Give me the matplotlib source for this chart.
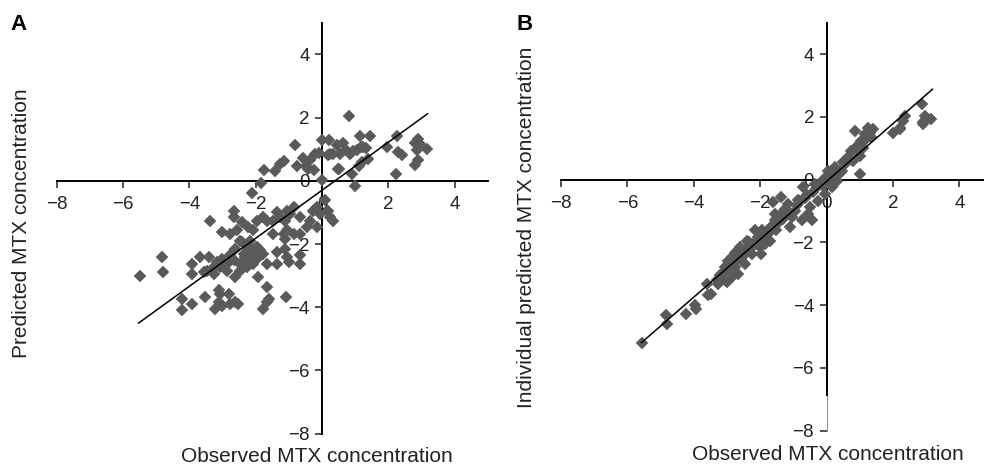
import matplotlib
matplotlib.use("Agg")
import matplotlib.pyplot as plt

plt.rcParams['font.family'] = ['Liberation Sans', 'DejaVu Sans']

# Panel A: observed vs predicted (population)
a_x = [0.82, -0.82, 0.00, 0.22, -0.58, -1.14, -1.27, -1.41, -1.74, -1.83, -2.11, -0.22, -0.08,
       -0.76, -0.48, -0.24, 0.00, 0.19, 0.34, 0.54, 0.52, 0.64, 0.44, 0.84, 1.04, 1.14, 1.43,
       1.24, 1.16, 1.33, 1.19, 1.39, 0.89, 0.99, 1.12, 1.95, 2.25, 2.30, 2.40, 2.23, 2.80,
       2.90, 2.95, 3.15, 2.85, 2.80, 2.90, 0.72, 0.92, -0.41, -0.35, 0.24, 0.49,
       0.09, 0.19, 0.32, 0.24, -0.06, -0.16, -0.26, -0.36, -0.16, -0.46, -0.66, -0.86, -0.96,
       -1.06, -1.12, -1.27, -1.37, -1.47, -1.67, -1.77, -1.97, -2.07, -2.22, -2.42, -2.67, -2.67,
       -2.57, -2.77, -3.02, -3.39, -1.16, -1.12, -1.06, -0.86, -0.68, -1.77, -1.37, -1.12, -1.06,
       -1.01, -1.37, -1.67, -0.66, -0.68, -2.22, -2.07, -2.17, -2.32, -2.47, -2.27, -2.07, -1.97,
       -2.67, -2.77, -2.87, -3.02, -3.17, -3.27, -3.07, -2.87, -2.47, -2.62, -1.92, -1.67, -3.27,
       -3.47, -3.67, -3.42, -3.57, -3.93, -3.93, -4.83, -4.81, -5.50, -4.23, -3.93, -4.23, -3.52,
       -3.12, -3.07, -2.82, -3.12, -3.22, -3.02, -2.77, -2.52, -2.62, -1.77, -1.67, -1.59, -1.08,
       -1.47, -1.97, -2.17, -2.47, -2.96, -2.61, -2.41, -2.21, -1.86, -2.36]
a_y = [2.04, 1.14, 1.30, 1.28, 0.72, 0.61, 0.52, 0.30, 0.35, -0.08, -0.39, 0.85, 0.89,
       0.46, 0.46, 0.35, 0.01, 0.83, 0.85, 0.85, 0.38, 1.19, 1.12, 0.85, 0.96, 1.43, 1.41,
       1.06, 1.07, 1.03, 0.59, 0.70, 0.22, -0.15, 0.46, 1.07, 1.43, 0.91, 0.80, 0.20, 1.19,
       1.33, 1.15, 1.01, 0.96, 0.49, 0.66, 0.96, 0.95, 0.38, 0.67, 0.85, 0.38,
       -0.62, -0.94, -1.26, -1.15, -1.04, -0.83, -0.94, -1.26, -1.47, -1.47, -1.15, -0.83, -1.04,
       -0.94, -1.26, -1.15, -0.99, -1.26, -1.26, -1.15, -1.26, -1.57, -1.47, -1.31, -0.94, -1.15,
       -1.57, -1.68, -1.62, -1.26, -1.68, -1.84, -1.57, -1.68, -1.68, -2.31, -2.26, -2.15, -2.42,
       -2.57, -2.63, -2.63, -2.36, -2.63, -2.10, -2.31, -2.52, -2.42, -2.63, -2.73, -2.63, -2.47,
       -2.52, -2.36, -2.63, -2.47, -2.57, -2.73, -2.73, -2.84, -2.84, -3.05, -3.05, -3.37, -2.95,
       -2.84, -2.42, -2.42, -2.89, -2.63, -2.95, -2.42, -2.89, -3.01, -3.73, -3.89, -4.10, -3.68,
       -3.47, -3.58, -3.58, -3.84, -4.05, -3.95, -3.89, -3.89, -3.84, -4.05, -3.84, -3.73, -3.66,
       -1.68, -2.10, -1.89, -1.89, -2.58, -2.15, -1.94, -2.05, -2.20, -2.30]

# Panel B: observed vs individual predicted
b_x = [-5.55, -4.85, -4.82, -4.24, -3.97, -3.92, -3.61, -3.56, -3.48, -3.26, -3.16, -3.06, -3.01,
       -2.86, -2.86, -2.76, -2.71, -2.66, -2.56, -2.46, -2.36, -2.26, -2.16, -2.06, -2.01, -1.91,
       -1.86, -1.71, -1.66, -1.56, -1.51, -1.36, -1.61, -1.36, -1.16, -1.10, -1.05, -0.95, -0.80,
       -0.75, -0.70, -0.55, -0.50, -0.45, -0.35, -0.25, -0.15, -0.05, 0.05, 0.15, 0.25, 0.30,
       0.35, 0.45, 0.65, 0.75, 0.85, 0.90, 1.00, 1.00, 1.05, 1.15, 1.25, 1.35, 1.40, 1.30, 2.00,
       2.21, 2.31, 2.36, 2.86, 2.91, 2.96, 3.16, -2.96, -2.61, -2.41, -2.21, -1.96, -1.76, -3.10,
       -2.90, -2.50, -2.30, -1.20, -0.90, -0.60, 0.10, 0.55, 1.10,
       -3.30, -3.20, -3.05, -2.95, -2.80, -2.70, -2.60, -2.50, -2.40, -2.30, -2.20, -2.10, -2.00,
       -1.90, -1.80, -1.70, -1.60, -1.50, -1.45, -1.30, -1.25, -1.15, -0.85, -0.65, -0.40, -0.30,
       -0.10, 0.00, 0.20, 0.40, 0.50, 0.80, 0.95, 1.20, 2.20, 2.90, -2.75, -2.35, -1.95, -1.55]
b_y = [-5.19, -4.32, -4.59, -4.27, -4.01, -4.11, -3.32, -3.69, -3.64, -3.32, -3.11, -2.79, -3.26,
       -2.47, -3.11, -2.79, -2.26, -3.00, -2.47, -2.68, -2.15, -2.36, -1.62, -1.83, -2.15, -1.73,
       -2.05, -1.94, -1.52, -1.30, -1.62, -0.56, -0.72, -1.09, -0.77, -1.52, -1.20, -0.99, -0.67,
       -1.30, -0.24, -1.09, -0.88, -1.30, -0.14, -0.67, -0.03, -0.46, 0.29, -0.24, 0.39, -0.03,
       0.18, 0.29, 0.71, 0.92, 1.56, 1.03, 0.18, 0.76, 1.24, 1.45, 1.66, 1.35, 1.61, 1.50, 1.50,
       1.66, 1.88, 2.03, 2.41, 1.77, 2.03, 1.93, -2.58, -2.15, -1.94, -2.05, -2.36, -1.73, -2.95,
       -2.60, -2.40, -2.10, -1.00, -0.80, -0.50, -0.10, 0.50, 1.00,
       -3.20, -3.05, -2.90, -2.85, -2.65, -2.55, -2.45, -2.30, -2.25, -2.20, -2.05, -1.95, -1.85,
       -1.80, -1.70, -1.55, -1.45, -1.40, -1.20, -1.25, -0.95, -1.00, -0.65, -0.60, -0.40, -0.25,
       -0.20, 0.10, 0.05, 0.20, 0.55, 0.60, 0.85, 1.30, 1.60, 1.85, -2.35, -2.00, -1.60, -1.10]

# Fitted lines (end points)
fit_a_x = [-5.53, 3.18]
fit_a_y = [-4.50, 2.12]
fit_b_x = [-5.57, 3.19]
fit_b_y = [-5.19, 2.88]

ticks = [-8, -6, -4, -2, 0, 2, 4]

fig = plt.figure(figsize=(9.84, 4.70), dpi=100)
axA = fig.add_axes([0.0576, 0.0772, 0.4383, 0.8745])
axB = fig.add_axes([0.5701, 0.0836, 0.4386, 0.8681])

mcol = '#5a5a5a'
for ax, xs, ys, fx, fy in [(axA, a_x, a_y, fit_a_x, fit_a_y), (axB, b_x, b_y, fit_b_x, fit_b_y)]:
    ax.plot(xs, ys, linestyle='none', marker='D', ms=6.3, mfc=mcol, mec=mcol, mew=0.3,
            zorder=3, clip_on=False)
    ax.plot(fx, fy, color='black', lw=1.1, zorder=4)
    ax.set_xlim(-8, 5)
    ax.set_ylim(-8, 5)
    ax.spines['left'].set_position(('data', 0))
    ax.spines['bottom'].set_position(('data', 0))
    ax.spines['top'].set_visible(False)
    ax.spines['right'].set_visible(False)
    ax.spines['left'].set_linewidth(1.4)
    ax.spines['bottom'].set_linewidth(1.4)
    ax.set_xticks(ticks)
    ax.set_yticks(ticks)
    ax.tick_params(axis='x', direction='out', length=5, width=1.1, labelsize=13.5, pad=6,
                   colors='#222222')
    ax.tick_params(axis='y', direction='out', length=5, width=1.1, labelsize=13.5, pad=4,
                   colors='#222222')
    ax.patch.set_visible(False)

# thin lower section of panel B's vertical axis
axB.spines['left'].set_bounds(-6.85, 5)
axB.plot([0, 0], [-8, -6.85], color='#777777', lw=0.6, clip_on=False)

fig.text(22 / 984, 1 - 223 / 470, 'Predicted MTX concentration', rotation=90,
         ha='center', va='center', fontsize=15, color='#222222')
fig.text(527 / 984, 1 - 227 / 470, 'Individual predicted MTX concentration', rotation=90,
         ha='center', va='center', fontsize=15, color='#222222')
fig.text(317 / 984, 1 - 457 / 470, 'Observed MTX concentration',
         ha='center', va='center', fontsize=15, color='#222222')
fig.text(828 / 984, 1 - 455 / 470, 'Observed MTX concentration',
         ha='center', va='center', fontsize=15, color='#222222')
fig.text(10 / 984, 1 - 24 / 470, 'A', fontsize=16, fontweight='bold', ha='left', va='center')
fig.text(517 / 984, 1 - 24 / 470, 'B', fontsize=16, fontweight='bold', ha='left', va='center')

fig.savefig('out.png', dpi=100)
